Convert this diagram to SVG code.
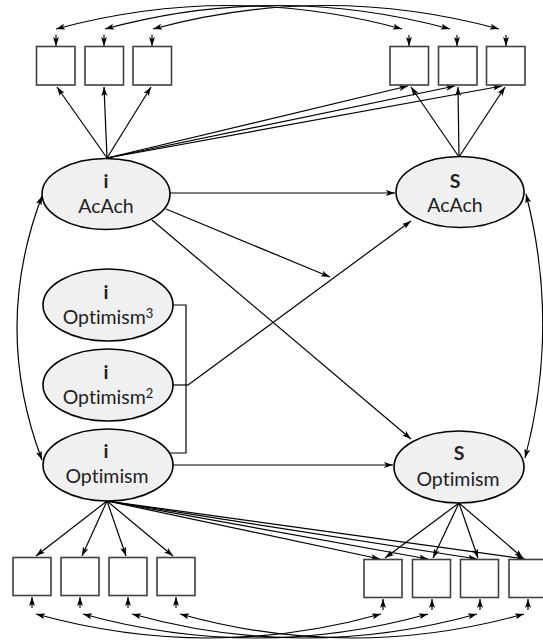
<svg xmlns="http://www.w3.org/2000/svg" width="543" height="640" viewBox="0 0 543 640">
<style>
.lat{fill:#f0f0f0;stroke:#000;stroke-width:1.6}
.box{fill:#fff;stroke:#404040;stroke-width:1.6}
.c{fill:none;stroke:#000;stroke-width:1.2}
.a{marker-end:url(#ah)}
.d{marker-start:url(#ah);marker-end:url(#ah)}
text{font-family:Lato,"Open Sans","Liberation Sans",sans-serif;font-size:19.5px;fill:#222;text-anchor:middle;font-variant-ligatures:none}
.b{font-weight:bold}
.sup{font-size:13px}
</style>
<defs>
<marker id="ah" markerUnits="userSpaceOnUse" markerWidth="10" markerHeight="7" refX="9" refY="3.5" orient="auto-start-reverse" viewBox="0 0 10 7">
<path d="M0,0.5 L9,3.5 L0,6.5 L2,3.5 z" fill="#000"/>
</marker>
</defs>

<g id="connectors">
<path class="c d" d="M56,29 Q229,-18 402,29"/>
<path class="c d" d="M105,29 Q277,-18 450,29"/>
<path class="c d" d="M153,29 Q326,-18 499,29"/>
<path class="c a" d="M56,35 V46"/>
<path class="c a" d="M104,35 V46"/>
<path class="c a" d="M152,35 V46"/>
<path class="c a" d="M409,35 V46"/>
<path class="c a" d="M457,35 V46"/>
<path class="c a" d="M506,35 V46"/>
<path class="c a" d="M107,158 L57,87"/>
<path class="c a" d="M107,158 L104,87"/>
<path class="c a" d="M107,158 L151,87"/>
<path class="c a" d="M107,158 L408,86"/>
<path class="c a" d="M107,158 L455,86"/>
<path class="c a" d="M107,158 L502,86"/>
<path class="c a" d="M459,157 L411,87"/>
<path class="c a" d="M459,157 L458,87"/>
<path class="c a" d="M459,157 L505,87"/>
<path class="c a" d="M170,193 L395,193"/>
<path class="c a" d="M166,209 L330,277"/>
<path class="c a" d="M152,220 L411,439"/>
<path class="c a" d="M173,465 L393,465"/>
<path class="c" d="M173,305 H186 V453 H170"/>
<path class="c" d="M173,385 H188"/>
<path class="c a" d="M188,385 L411,221"/>
<path class="c d" d="M42,196 Q-8,328 42,460"/>
<path class="c d" d="M526,194 Q560,326 525,458"/>
<path class="c a" d="M107,501 L36,556"/>
<path class="c a" d="M107,501 L82,556"/>
<path class="c a" d="M107,501 L126,556"/>
<path class="c a" d="M107,501 L173,556"/>
<path class="c a" d="M107,501 L380,559"/>
<path class="c a" d="M107,501 L428,559"/>
<path class="c a" d="M107,501 L477,559"/>
<path class="c a" d="M107,501 L525,559"/>
<path class="c a" d="M459,503 L385,558"/>
<path class="c a" d="M459,503 L433,558"/>
<path class="c a" d="M459,503 L478,558"/>
<path class="c a" d="M459,503 L523,558"/>
<path class="c a" d="M32,608 V597"/>
<path class="c a" d="M80,608 V597"/>
<path class="c a" d="M128,608 V597"/>
<path class="c a" d="M176,608 V597"/>
<path class="c a" d="M383,610 V599"/>
<path class="c a" d="M432,610 V599"/>
<path class="c a" d="M480,610 V599"/>
<path class="c a" d="M528,610 V599"/>
<path class="c d" d="M36,614 Q209,662 381,614"/>
<path class="c d" d="M83,614 Q256,662 428,614"/>
<path class="c d" d="M132,614 Q304,662 477,614"/>
<path class="c d" d="M180,614 Q352,662 524,614"/>
</g>

<g id="box-t1"><rect class="box" x="36.5" y="46.5" width="38.5" height="38.5"/></g>
<g id="box-t2"><rect class="box" x="85" y="46.5" width="38.5" height="38.5"/></g>
<g id="box-t3"><rect class="box" x="133" y="46.5" width="38.5" height="38.5"/></g>
<g id="box-t4"><rect class="box" x="390" y="46.5" width="38.5" height="38.5"/></g>
<g id="box-t5"><rect class="box" x="438.5" y="46.5" width="38.5" height="38.5"/></g>
<g id="box-t6"><rect class="box" x="486.5" y="46.5" width="38.5" height="38.5"/></g>

<g id="box-b1"><rect class="box" x="13" y="557.5" width="38" height="38"/></g>
<g id="box-b2"><rect class="box" x="61" y="557.5" width="38" height="38"/></g>
<g id="box-b3"><rect class="box" x="109" y="557.5" width="38" height="38"/></g>
<g id="box-b4"><rect class="box" x="157" y="557.5" width="38" height="38"/></g>
<g id="box-b5"><rect class="box" x="364" y="559.5" width="38" height="38"/></g>
<g id="box-b6"><rect class="box" x="412.5" y="559.5" width="38" height="38"/></g>
<g id="box-b7"><rect class="box" x="460.5" y="559.5" width="38" height="38"/></g>
<g id="box-b8"><rect class="box" x="509" y="559.5" width="38" height="38"/></g>

<g id="iAcAch"><ellipse class="lat" cx="106" cy="194" rx="64" ry="35.5"/><text class="b" x="106" y="188">i</text><text x="106" y="213">AcAch</text></g>
<g id="sAcAch"><ellipse class="lat" cx="460" cy="192" rx="64" ry="35.5"/><text class="b" x="455" y="188">S</text><text x="455" y="212">AcAch</text></g>
<g id="iOpt3"><ellipse class="lat" cx="108" cy="305" rx="65" ry="36"/><text class="b" x="106" y="299">i</text><text x="108" y="324">Optimism<tspan class="sup" dy="-6">3</tspan></text></g>
<g id="iOpt2"><ellipse class="lat" cx="108" cy="385" rx="65" ry="36"/><text class="b" x="106" y="379">i</text><text x="108" y="404">Optimism<tspan class="sup" dy="-6">2</tspan></text></g>
<g id="iOpt"><ellipse class="lat" cx="108" cy="465" rx="65" ry="36"/><text class="b" x="106" y="458">i</text><text x="107" y="483">Optimism</text></g>
<g id="sOpt"><ellipse class="lat" cx="459" cy="467" rx="65" ry="36"/><text class="b" x="459" y="460">S</text><text x="458" y="486">Optimism</text></g>
</svg>
